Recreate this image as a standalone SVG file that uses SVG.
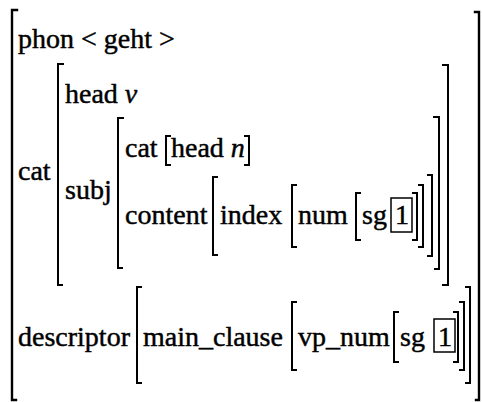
<svg xmlns="http://www.w3.org/2000/svg" width="482" height="402" viewBox="0 0 482 402">
  <style>
    text { font-family: "Liberation Serif", "Times New Roman", Times, serif; font-size: 28px; fill: #000; stroke: #000; stroke-width: 0.45; }
    .it { font-style: italic; }
    .br { fill: none; stroke: #000; stroke-width: 2; stroke-linecap: square; }
    .outer { stroke-width: 2.4; }
    .tag { fill: none; stroke: #000; stroke-width: 1.5; }
  </style>
  <rect width="482" height="402" fill="#fff"/>

  <!-- outermost feature structure -->
  <g id="avm">
    <path class="br outer" d="M17 10 H12 V400 H16"/>
    <path class="br outer" d="M475 12 H479 V400 H476"/>

    <g id="row-phon">
      <text x="18" y="48">phon &lt; geht &gt;</text>
    </g>

    <g id="row-cat">
      <text x="18" y="180">cat</text>
      <path class="br" d="M63 64 H58 V285 H62"/>
      <path class="br" d="M443 65 H448 V285 H443"/>

      <g id="cat-head">
        <text x="65" y="103">head <tspan class="it">v</tspan></text>
      </g>

      <g id="cat-subj">
        <text x="65" y="199">subj</text>
        <path class="br" d="M123 118 H118 V268 H122"/>
        <path class="br" d="M434 117 H439 V269 H435"/>

        <g id="subj-cat">
          <text x="125" y="157">cat</text>
          <path class="br" d="M170 136 H166 V165 H170"/>
          <text x="171" y="157">head <tspan class="it">n</tspan></text>
          <path class="br" d="M245 136 H249 V165 H245"/>
        </g>

        <g id="subj-content">
          <text x="125" y="224">content</text>
          <path class="br" d="M217 177 H213 V255 H217"/>
          <text x="220" y="224">index</text>
          <path class="br" d="M296 185 H292 V247 H296"/>
          <text x="298" y="224">num</text>
          <path class="br" d="M360 193 H356 V240 H360"/>
          <text x="362" y="224">sg</text>
          <rect class="tag" x="391" y="198" width="21" height="34"/>
          <text x="395" y="224">1</text>
          <path class="br" d="M413 193 H417 V240 H413"/>
          <path class="br" d="M419 185 H423 V247 H419"/>
          <path class="br" d="M428 175 H432 V256 H428"/>
        </g>
      </g>
    </g>

    <g id="row-descriptor">
      <text x="18" y="346">descriptor</text>
      <path class="br" d="M141 287 H137 V383 H141"/>
      <text x="143" y="346">main_clause</text>
      <path class="br" d="M296 302 H292 V370 H296"/>
      <text x="298" y="346">vp_num</text>
      <path class="br" d="M398 312 H394 V362 H398"/>
      <text x="400" y="346">sg</text>
      <rect class="tag" x="434" y="319" width="21" height="33"/>
      <text x="438" y="346">1</text>
      <path class="br" d="M454 312 H458 V362 H454"/>
      <path class="br" d="M460 302 H464 V370 H460"/>
      <path class="br" d="M466 287 H470 V383 H466"/>
    </g>
  </g>
</svg>
